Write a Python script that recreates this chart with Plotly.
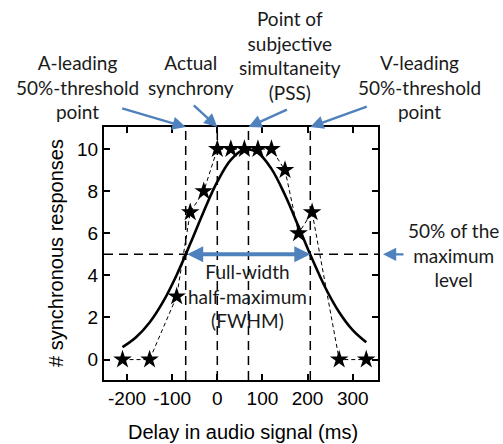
import plotly.graph_objects as go

# data
delay_ms = [-210, -150, -90, -60, -30, 0, 30, 60, 90, 120, 150, 180, 210, 270, 330]
sync_resp = [0, 0, 3, 7, 8, 10, 10, 10, 10, 10, 9, 6, 7, 0, 0]

fit_x = [-210, -180, -150, -120, -90, -60, -30, 0, 30, 60, 90, 120, 150, 180, 210, 240, 270, 300, 330]
fit_y = [0.59, 1.06, 1.76, 2.75, 4.02, 5.5, 7.04, 8.45, 9.49, 9.98, 9.82, 9.06, 7.82, 6.32, 4.79, 3.39, 2.25, 1.4, 0.82]

vline_x = [-70, 0, 69, 206]
half_max = 5

x_ticks = [-200, -100, 0, 100, 200, 300]
x_tick_text = ["-200", "-100", "0", "100", "200", "300"]
y_ticks = [0, 2, 4, 6, 8, 10]

X_RANGE = [-251, 356]
Y_RANGE = [-0.97, 11.05]

BLUE = "#4f81bd"
ANN_FONT = dict(family="Lato, Open Sans, sans-serif", size=19, color="#1a1a1a")
TICK_FONT = dict(family="Liberation Sans, Arial, sans-serif", size=19, color="black")
TITLE_FONT = dict(family="Liberation Sans, Arial, sans-serif", size=20, color="black")

fig = go.Figure()
fig.add_trace(go.Scatter(x=fit_x, y=fit_y, mode="lines", line=dict(color="black", width=2.6, shape="spline"),
                         hoverinfo="skip"))
fig.add_trace(go.Scatter(x=delay_ms, y=sync_resp, mode="lines+markers",
                         line=dict(color="black", width=1, dash="4px,3px"),
                         marker=dict(symbol="star", size=14, color="black")))

for vx in vline_x:
    fig.add_shape(type="line", xref="x", yref="paper", x0=vx, x1=vx, y0=0, y1=1,
                  line=dict(color="black", width=1.5, dash="9px,6px"))
fig.add_shape(type="line", xref="paper", yref="y", x0=0, x1=1, y0=half_max, y1=half_max,
              line=dict(color="black", width=1.5, dash="9px,6px"))

W, H = 503, 444
L, R, T, B = 104, 125, 127, 64
pw, ph = W - L - R, H - T - B


def px(xp):
    return (xp - L) / pw


def py(yp):
    return (H - B - yp) / ph


def xdata_to_paper(v):
    return (v - X_RANGE[0]) / (X_RANGE[1] - X_RANGE[0])


def label(text, x, y, font=ANN_FONT, angle=0):
    fig.add_annotation(text=text, xref="paper", yref="paper", x=x, y=y, showarrow=False,
                       font=font, xanchor="center", yanchor="middle", align="center", textangle=angle)


label("A-leading<br>50%-threshold<br>point", px(77), py(87))
label("Actual<br>synchrony", px(191), py(75))
label("Point of<br>subjective<br>simultaneity<br>(PSS)", px(290), py(55))
label("V-leading<br>50%-threshold<br>point", px(419), py(87))
label("50% of the<br>maximum<br>level", px(453), py(255))
label("Full-width<br>half-maximum<br>(FWHM)", px(247), py(296))

# axis titles
label("Delay in audio signal (ms)", px(243), py(432), font=TITLE_FONT)
label("# synchronous responses", px(56), py(253), font=TITLE_FONT, angle=-90)

arrows = [(xdata_to_paper(vline_x[0]), 1.0, -65, -19), (xdata_to_paper(vline_x[1]), 1.0, -25, -23),
          (xdata_to_paper(vline_x[2]), 1.0, 40, -18), (xdata_to_paper(vline_x[3]), 1.0, 58, -21),
          (px(383), (half_max - Y_RANGE[0]) / (Y_RANGE[1] - Y_RANGE[0]), 22, 0)]
for hx, hy, dx, dy in arrows:
    fig.add_annotation(x=hx, y=hy, xref="paper", yref="paper", ax=dx, ay=dy, axref="pixel", ayref="pixel",
                       showarrow=True, arrowhead=2, arrowsize=1.1, arrowwidth=2.4, arrowcolor=BLUE,
                       text="", standoff=0)
fig.add_annotation(x=vline_x[3], y=half_max, xref="x", yref="y", ax=vline_x[0], ay=half_max,
                   axref="x", ayref="y", showarrow=True, arrowhead=2, startarrowhead=2, arrowside="end+start",
                   arrowsize=0.8, startarrowsize=0.8, arrowwidth=4, arrowcolor=BLUE, text="", standoff=0,
                   startstandoff=0)

axis_common = dict(showline=True, linecolor="black", linewidth=2, mirror="ticks", ticks="inside",
                   ticklen=6, tickwidth=2, tickcolor="black", showgrid=False, zeroline=False,
                   tickfont=TICK_FONT, automargin=False)
fig.update_xaxes(range=X_RANGE, tickvals=x_ticks, ticktext=x_tick_text, **axis_common)
fig.update_yaxes(range=Y_RANGE, tickvals=y_ticks, **axis_common)
fig.update_layout(width=W, height=H, margin=dict(l=L, r=R, t=T, b=B), showlegend=False,
                  plot_bgcolor="white", paper_bgcolor="white")
fig.write_html("out.html")
